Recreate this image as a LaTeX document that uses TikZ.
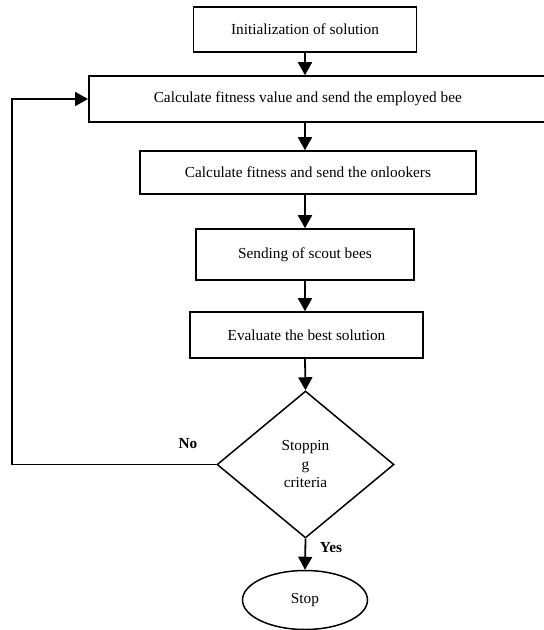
\documentclass[tikz,border=0pt]{standalone}
\usepackage{fontspec}
\setmainfont{Liberation Serif}
\usetikzlibrary{shapes.geometric,arrows.meta}
\begin{document}
\begin{tikzpicture}[x=1pt,y=-1pt,
  box/.style={draw,line width=1.6pt,inner sep=0pt,font=\fontsize{15.3}{18}\selectfont},
  arr/.style={line width=1.8pt,-{Triangle[length=13pt,width=14pt]}},
  lbl/.style={font=\fontsize{15.3}{18}\selectfont\bfseries}]
\clip (0,0) rectangle (544,630);
\node[box,minimum width=223pt,minimum height=45pt] (b1) at (305,29.5) {Initialization of solution};
\node[box,minimum width=472pt,minimum height=46pt,anchor=west] (b2) at (88,99) {\hspace*{-34pt}Calculate fitness value and send the employed bee};
\node[box,minimum width=336pt,minimum height=43pt] (b3) at (308,172.5) {Calculate fitness and send the onlookers};
\node[box,minimum width=218pt,minimum height=51pt] (b4) at (305,254.5) {Sending of scout bees};
\node[box,minimum width=233pt,minimum height=46pt] (b5) at (306.5,335) {Evaluate the best solution};
\node[draw,line width=1.5pt,shape=diamond,minimum width=177pt,minimum height=147pt,inner sep=0pt,align=center,font=\fontsize{15.3}{18.5}\selectfont] (d) at (305.5,464.5) {Stoppin\\g\\criteria};
\node[draw,line width=1.5pt,ellipse,minimum width=125pt,minimum height=59pt,inner sep=0pt,font=\fontsize{15.3}{18}\selectfont] (s) at (305,600) {Stop};
\coordinate (c1) at (305,0);
\draw[arr] (b1.south -| c1) -- (b2.north -| c1);
\draw[arr] (b2.south -| c1) -- (b3.north -| c1);
\draw[arr] (b3.south -| c1) -- (b4.north -| c1);
\draw[arr] (b4.south -| c1) -- (b5.north -| c1);
\draw[arr] (b5.south -| c1) -- (d.north);
\draw[arr] (d.south) -- (s.north);
\coordinate (lp) at (12,464.5);
\draw[arr] (d.west) -- (lp) |- (b2.west);
\node[lbl] (no) at (188,444) {No};
\node[lbl] (yes) at (331,548) {Yes};
\end{tikzpicture}
\end{document}
